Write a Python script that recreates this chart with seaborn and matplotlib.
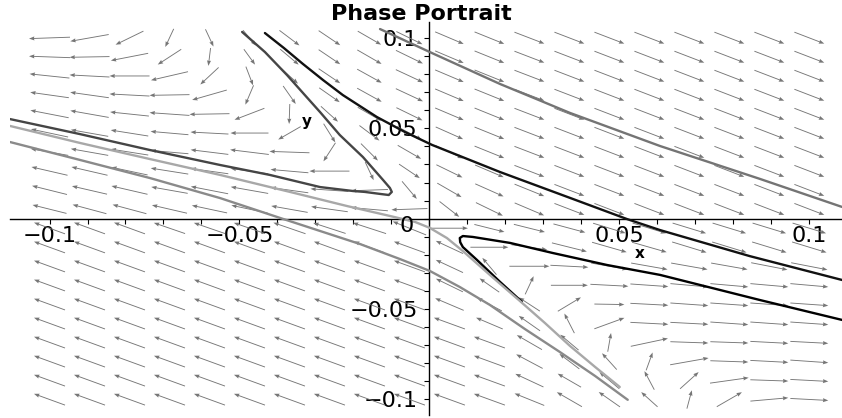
import numpy as np
import seaborn as sns
import matplotlib.pyplot as plt

# direction field: arrow angle (deg, as seen on screen) on a 20 x 20 grid,
# rows from top (y = 0.1) to bottom (y = -0.1), columns from left to right
field_angles = [
    [182, 190, 206, 245, 295, 310, 323, 326, 330, 334, 337, 338, 339, 339, 339, 339, 339, 339, 339, 339],
    [178, 181, 191, 213, 263, 306, 320, 326, 330, 334, 337, 338, 339, 339, 339, 339, 339, 339, 339, 339],
    [174, 177, 180, 193, 223, 291, 318, 326, 331, 335, 337, 338, 339, 339, 339, 339, 339, 339, 339, 339],
    [172, 172, 177, 181, 196, 247, 305, 325, 331, 335, 337, 338, 339, 339, 339, 339, 339, 339, 339, 339],
    [169, 170, 174, 176, 181, 201, 268, 318, 330, 334, 337, 338, 339, 339, 339, 339, 339, 339, 339, 339],
    [168, 170, 171, 175, 177, 180, 210, 302, 323, 332, 336, 338, 339, 339, 339, 339, 339, 339, 339, 339],
    [170, 170, 171, 175, 173, 173, 178, 237, 315, 330, 335, 338, 339, 339, 339, 339, 339, 339, 339, 339],
    [167, 167, 168, 171, 172, 172, 175, 180, 295, 326, 334, 337, 339, 339, 339, 339, 339, 339, 339, 339],
    [166, 167, 167, 170, 169, 170, 172, 176, 182, 310, 330, 336, 338, 339, 339, 339, 339, 339, 339, 339],
    [166, 165, 165, 167, 168, 168, 170, 172, 175, 182, 322, 334, 337, 339, 339, 339, 339, 339, 339, 339],
    [160, 160, 160, 161, 161, 161, 161, 162, 162, 158, 0, 346, 346, 345, 343, 343, 343, 343, 343, 343],
    [160, 160, 160, 160, 160, 160, 160, 160, 160, 160, 155, 0, 352, 346, 344, 344, 343, 343, 343, 343],
    [160, 160, 160, 160, 160, 160, 160, 160, 160, 160, 155, 130, 0, 357, 350, 350, 350, 350, 349, 349],
    [160, 160, 160, 160, 160, 160, 160, 160, 160, 160, 154, 145, 65, 0, 357, 356, 355, 355, 355, 355],
    [160, 160, 160, 160, 160, 160, 160, 160, 160, 160, 157, 152, 147, 31, 359, 357, 356, 356, 356, 356],
    [160, 160, 160, 160, 160, 160, 160, 160, 160, 160, 160, 157, 145, 117, 20, 357, 357, 356, 356, 356],
    [160, 160, 160, 160, 160, 160, 160, 160, 160, 160, 160, 160, 150, 140, 80, 12, 358, 358, 357, 357],
    [160, 160, 160, 160, 160, 160, 160, 160, 160, 160, 160, 160, 152, 143, 132, 70, 10, 358, 357, 356],
    [160, 160, 160, 160, 160, 160, 160, 160, 160, 160, 160, 160, 155, 150, 140, 118, 42, 8, 358, 357],
    [160, 160, 160, 160, 160, 160, 160, 160, 160, 160, 160, 160, 158, 150, 145, 138, 75, 30, 5, 357],
]

# arrow lengths on screen (px), same grid
field_lengths = [
    [41, 39, 31, 20, 19, 20, 25, 26, 27, 29, 31, 32, 32, 32, 32, 32, 32, 32, 32, 32],
    [41, 40, 38, 28, 18, 19, 24, 26, 28, 30, 31, 32, 32, 32, 32, 32, 32, 32, 32, 32],
    [40, 40, 40, 38, 25, 20, 23, 26, 28, 30, 31, 32, 32, 32, 32, 32, 32, 32, 32, 32],
    [39, 39, 40, 40, 36, 21, 22, 25, 28, 30, 31, 32, 32, 32, 32, 32, 32, 32, 32, 32],
    [39, 39, 39, 40, 40, 32, 20, 23, 27, 29, 31, 32, 32, 32, 32, 32, 32, 32, 32, 32],
    [38, 38, 38, 38, 38, 38, 26, 22, 25, 28, 30, 32, 32, 32, 32, 32, 32, 32, 32, 32],
    [38, 38, 38, 38, 38, 39, 40, 22, 24, 27, 30, 32, 32, 32, 32, 32, 32, 32, 32, 32],
    [37, 37, 37, 38, 38, 38, 38, 40, 20, 25, 29, 31, 32, 32, 32, 32, 32, 32, 32, 32],
    [36, 36, 37, 37, 38, 38, 38, 38, 37, 23, 28, 31, 32, 32, 32, 32, 32, 32, 32, 32],
    [35, 35, 35, 36, 36, 37, 37, 37, 37, 36, 25, 30, 32, 32, 32, 32, 32, 32, 32, 32],
    [33, 33, 33, 33, 33, 33, 34, 34, 35, 36, 37, 31, 32, 33, 34, 35, 35, 35, 35, 35],
    [33, 33, 33, 33, 33, 33, 33, 33, 33, 33, 30, 38, 36, 36, 36, 36, 36, 36, 36, 36],
    [33, 33, 33, 33, 33, 33, 33, 33, 33, 33, 30, 22, 40, 38, 37, 37, 37, 37, 37, 37],
    [33, 33, 33, 33, 33, 33, 33, 33, 33, 33, 30, 24, 20, 37, 38, 38, 38, 38, 38, 38],
    [33, 33, 33, 33, 33, 33, 33, 33, 33, 33, 31, 28, 25, 27, 30, 38, 38, 38, 38, 38],
    [33, 33, 33, 33, 33, 33, 33, 33, 33, 33, 33, 29, 26, 22, 32, 38, 38, 38, 38, 38],
    [33, 33, 33, 33, 33, 33, 33, 33, 33, 33, 33, 33, 29, 24, 19, 38, 38, 38, 38, 38],
    [33, 33, 33, 33, 33, 33, 33, 33, 33, 33, 33, 33, 30, 25, 22, 19, 39, 38, 38, 38],
    [33, 33, 33, 33, 33, 33, 33, 33, 33, 33, 33, 33, 31, 27, 26, 21, 25, 39, 38, 38],
    [33, 33, 33, 33, 33, 33, 33, 33, 33, 33, 33, 33, 32, 29, 26, 22, 19, 29, 38, 38],
]

# solution curves
traj_gray_x = [-0.0130, 0.0007, 0.0186, 0.0370, 0.0607, 0.0870, 0.1086]
traj_gray_y = [0.1049, 0.0916, 0.0745, 0.0585, 0.0402, 0.0220, 0.0065]

traj_black1_x = [-0.0433, -0.0383, -0.0333, -0.0280, -0.0228, -0.0138, -0.0064, 0.0007,
                 0.0186, 0.0370, 0.0520, 0.0607, 0.0843, 0.1086]
traj_black1_y = [0.1027, 0.0944, 0.0856, 0.0767, 0.0684, 0.0562, 0.0479, 0.0408,
                 0.0258, 0.0115, -0.0002, -0.0063, -0.0207, -0.0339]

traj_black2_x = [0.0243, 0.0186, 0.0125, 0.0088, 0.0081, 0.0080, 0.0088, 0.0114, 0.0212,
                 0.0325, 0.0467, 0.0607, 0.0870, 0.1086]
traj_black2_y = [-0.0459, -0.0350, -0.0228, -0.0157, -0.0130, -0.0107, -0.0096, -0.0101, -0.0134,
                 -0.0190, -0.0256, -0.0311, -0.0450, -0.0560]

traj_dark_x = [-0.0493, -0.0433, -0.0375, -0.0328, -0.0288, -0.0236, -0.0175, -0.0122, -0.0104,
               -0.0099, -0.0107, -0.0130, -0.0170, -0.0201, -0.0288, -0.0420, -0.0551, -0.0736,
               -0.0920, -0.1104]
traj_dark_y = [0.1033, 0.0922, 0.0795, 0.0684, 0.0590, 0.0463, 0.0341, 0.0214, 0.0170,
               0.0148, 0.0131, 0.0137, 0.0148, 0.0153, 0.0175, 0.0242, 0.0297, 0.0380,
               0.0468, 0.0551]

traj_light_x = [-0.1104, -0.0920, -0.0736, -0.0551, -0.0367, -0.0217, -0.0104, -0.0038, 0.0001,
                0.0046, 0.0088, 0.0159, 0.0238, 0.0304, 0.0370, 0.0436, 0.0501]
traj_light_y = [0.0513, 0.0419, 0.0330, 0.0242, 0.0148, 0.0070, 0.0015, -0.0018, -0.0051,
                -0.0107, -0.0179, -0.0311, -0.0455, -0.0577, -0.0704, -0.0820, -0.0931]

traj_mid_x = [-0.1104, -0.0920, -0.0736, -0.0551, -0.0393, -0.0288, -0.0183, -0.0078, 0.0001,
              0.0080, 0.0159, 0.0251, 0.0343, 0.0436, 0.0522]
traj_mid_y = [0.0424, 0.0325, 0.0225, 0.0114, 0.0004, -0.0068, -0.0140, -0.0223, -0.0289,
              -0.0378, -0.0477, -0.0610, -0.0737, -0.0870, -0.1002]

tick_vals = np.round(np.arange(-0.1, 0.1001, 0.01), 2)
x_labels = {-0.1: "\u22120.1", -0.05: "\u22120.05", 0.05: "0.05", 0.1: "0.1"}
y_labels = {-0.1: "\u22120.1", -0.05: "\u22120.05", 0.05: "0.05", 0.1: "0.1"}

sns.set_theme(style="white")
plt.rcParams["font.family"] = ["DejaVu Sans"]

fig = plt.figure(figsize=(8.42, 4.18), dpi=100)
ax = fig.add_axes([10 / 842, 3 / 418, 832 / 842, 393 / 418])

# arrows (angles / lengths are screen based, so draw them in dots)
grid = np.linspace(-0.1, 0.1, 20)
X, Y = np.meshgrid(grid, grid[::-1])
ang = np.deg2rad(np.array(field_angles, dtype=float))
lens = np.array(field_lengths, dtype=float)
ax.quiver(X, Y, lens * np.cos(ang), lens * np.sin(ang), angles="uv", pivot="middle",
          units="dots", scale_units="dots", scale=1, width=0.9,
          headwidth=4.5, headlength=6, headaxislength=5.5, color="#767676", zorder=2)

curves = [
    (traj_gray_x, traj_gray_y, "#747474"),
    (traj_black1_x, traj_black1_y, "#111111"),
    (traj_black2_x, traj_black2_y, "#000000"),
    (traj_dark_x, traj_dark_y, "#454545"),
    (traj_light_x, traj_light_y, "#a8a8a8"),
    (traj_mid_x, traj_mid_y, "#8a8a8a"),
]
for cx, cy, col in curves:
    sns.lineplot(x=cx, y=cy, sort=False, estimator=None, color=col, linewidth=1.7, ax=ax, zorder=3)

ax.set_xlim(-0.1104, 0.1086)
ax.set_ylim(-0.1086, 0.1088)

for s in ["top", "right"]:
    ax.spines[s].set_visible(False)
for s in ["left", "bottom"]:
    ax.spines[s].set_position(("data", 0))
    ax.spines[s].set_color("black")
    ax.spines[s].set_linewidth(1.0)

ax.set_xticks(tick_vals)
ax.set_xticklabels([x_labels.get(float(v), "") for v in tick_vals])
ax.set_yticks(tick_vals)
ax.set_yticklabels([y_labels.get(float(v), "") for v in tick_vals])
ax.tick_params(axis="x", direction="out", length=3.5, width=0.8, pad=2, labelsize=16, colors="black")
ax.tick_params(axis="y", direction="out", length=3.5, width=0.8, pad=5, labelsize=16, colors="black")
ax.tick_params(left=True, bottom=True)

ax.text(-0.0059, -0.0043, "0", fontsize=16, ha="center", va="center", color="black")
ax.text(-0.0322, 0.054, "y", fontsize=11, fontweight="bold", ha="center", va="center", color="black")
ax.text(0.0554, -0.019, "x", fontsize=11, fontweight="bold", ha="center", va="center", color="black")
fig.text(421 / 842, 1 - 14 / 418, "Phase Portrait", fontsize=16, fontweight="bold",
         ha="center", va="center", color="black")

ax.grid(False)
ax.set_xlabel("")
ax.set_ylabel("")
fig.savefig("out.png", dpi=100)
